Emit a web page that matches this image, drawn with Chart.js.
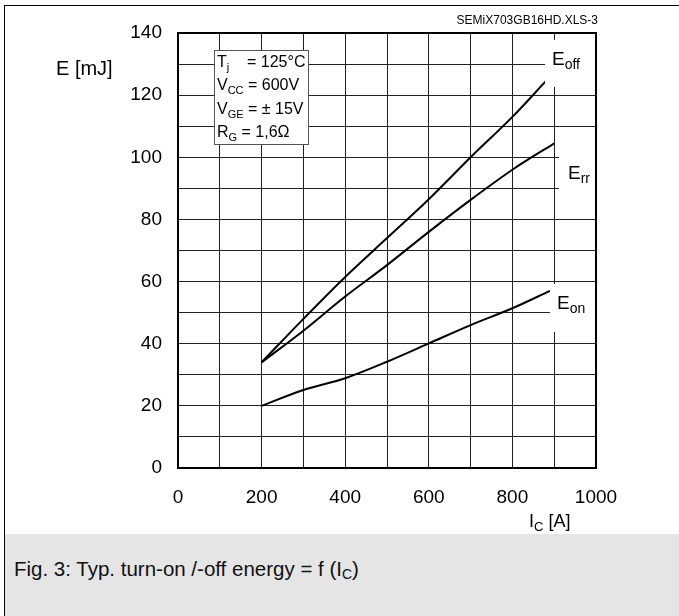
<!DOCTYPE html>
<html>
<head>
<meta charset="utf-8">
<script src="https://cdn.jsdelivr.net/npm/chart.js@4.4.0/dist/chart.umd.min.js"></script>
<style>
  body { margin: 0; background: #fff; font-family: "Liberation Sans", Arial, sans-serif; }
  #page { position: relative; width: 679px; height: 616px; overflow: hidden; }
  #plot { position: absolute; left: 0; top: 0; }
  #caption { position: absolute; left: 5px; top: 534px; width: 674px; height: 82px; background: #e5e5e5; }
  #caption div { position: absolute; left: 9px; top: 23px; font-size: 20.5px; color: #111; white-space: nowrap; }
  #caption sub { font-size: 14px; vertical-align: -3px; }
  .frame { position: absolute; background: #000; }
</style>
</head>
<body>
<div id="page">
  <canvas id="plot" width="679" height="534"></canvas>
  <div id="caption"><div>Fig. 3: Typ. turn-on /-off energy = f (I<sub>C</sub>)</div></div>
  <div class="frame" style="left:4px;top:5px;width:675px;height:1px"></div>
  <div class="frame" style="left:4px;top:5px;width:1px;height:611px"></div>
</div>
<script>
// collector current I_C [A] and switching energies [mJ]
const icOff = [200, 300, 400, 500, 600, 700, 800, 880];
const eOff = [34, 48, 61.5, 74, 86.5, 100, 113, 124.5];
const icRr = [200, 300, 400, 500, 600, 700, 800, 900];
const eRr = [34, 44.2, 55.2, 65.3, 76, 86.3, 96, 104.5];
const icOn = [200, 300, 400, 500, 600, 700, 800, 890];
const eOn = [20, 25.1, 28.9, 34.2, 40.1, 46, 51.4, 57];

const xTicks = [0, 200, 400, 600, 800, 1000];
const yTicks = [0, 20, 40, 60, 80, 100, 120, 140];

const FONT = '"Liberation Sans", Arial, sans-serif';

function toPoints(xs, ys) {
    return xs.map((x, i) => ({ x, y: ys[i] }));
}

// draws text made of [string, isSubscript] parts, left aligned at x, baseline y
function drawRich(ctx, parts, x, y, size, subSize) {
    ctx.textAlign = 'left';
    ctx.textBaseline = 'alphabetic';
    parts.forEach(([txt, sub]) => {
        ctx.font = (sub ? subSize : size) + 'px ' + FONT;
        ctx.fillText(txt, x, sub ? y + Math.round(size * 0.22) : y);
        x += ctx.measureText(txt).width;
    });
}

const decor = {
    id: 'decor',
    afterDatasetsDraw(chart) {
        const ctx = chart.ctx;
        const a = chart.chartArea;
        ctx.save();

        // white backgrounds behind curve labels
        ctx.fillStyle = '#fff';
        ctx.fillRect(545, 40, 50, 47);
        ctx.fillRect(559, 146, 36, 52);
        ctx.fillRect(550, 284, 45, 48);

        ctx.fillStyle = '#000';
        drawRich(ctx, [['E', false], ['off', true]], 552, 65, 19, 14);
        drawRich(ctx, [['E', false], ['rr', true]], 568, 179, 19, 14);
        drawRich(ctx, [['E', false], ['on', true]], 557, 309, 19, 14);

        // conditions box
        ctx.fillStyle = '#fff';
        ctx.fillRect(214, 50, 94, 94);
        ctx.strokeStyle = '#555';
        ctx.lineWidth = 1;
        ctx.strokeRect(214.5, 50.5, 94, 94);
        ctx.fillStyle = '#000';
        drawRich(ctx, [['T', false], ['j', true], ['    = 125\u00B0C', false]], 217, 67, 16, 11);
        drawRich(ctx, [['V', false], ['CC', true], [' = 600V', false]], 217, 90, 16, 11);
        drawRich(ctx, [['V', false], ['GE', true], [' = \u00B1 15V', false]], 217, 114, 16, 11);
        drawRich(ctx, [['R', false], ['G', true], [' = 1,6\u03A9', false]], 217, 137, 16, 11);

        // plot border
        ctx.strokeStyle = '#000';
        ctx.lineWidth = 2;
        ctx.strokeRect(a.left, a.top, a.right - a.left, a.bottom - a.top);

        // axis titles
        ctx.fillStyle = '#000';
        drawRich(ctx, [['E [mJ]', false]], 56, 75, 20, 14);
        drawRich(ctx, [['I', false], ['C', true], [' [A]', false]], 529, 527, 18, 13);

        ctx.font = '12px ' + FONT;
        ctx.textAlign = 'right';
        ctx.fillText('SEMiX703GB16HD.XLS-3', 598, 24);
        ctx.restore();
    }
};

const lineStyle = {
    borderColor: '#000',
    borderWidth: 2,
    pointRadius: 0,
    fill: false,
    tension: 0.3,
    cubicInterpolationMode: 'monotone'
};

new Chart(document.getElementById('plot'), {
    type: 'line',
    data: {
        datasets: [
            { label: 'Eoff', data: toPoints(icOff, eOff), ...lineStyle },
            { label: 'Err', data: toPoints(icRr, eRr), ...lineStyle },
            { label: 'Eon', data: toPoints(icOn, eOn), ...lineStyle }
        ]
    },
    options: {
        responsive: false,
        devicePixelRatio: 1,
        animation: false,
        layout: { padding: { top: 33, right: 83, left: 0, bottom: 0 } },
        plugins: { legend: { display: false }, tooltip: { enabled: false } },
        scales: {
            x: {
                type: 'linear',
                min: 0,
                max: 1000,
                afterFit: s => { s.height = 66; },
                ticks: {
                    stepSize: 100,
                    autoSkip: false,
                    maxRotation: 0,
                    padding: 18,
                    color: '#000',
                    font: { family: FONT, size: 19 },
                    callback: v => xTicks.includes(v) ? String(v) : ''
                },
                grid: { color: '#222', lineWidth: 1, drawTicks: false },
                border: { display: false }
            },
            y: {
                min: 0,
                max: 140,
                afterFit: s => { s.width = 178; },
                ticks: {
                    stepSize: 10,
                    autoSkip: false,
                    padding: 16,
                    color: '#000',
                    font: { family: FONT, size: 19 },
                    callback: v => yTicks.includes(v) ? String(v) : ''
                },
                grid: { color: '#222', lineWidth: 1, drawTicks: false },
                border: { display: false }
            }
        }
    },
    plugins: [decor]
});
</script>
</body>
</html>
